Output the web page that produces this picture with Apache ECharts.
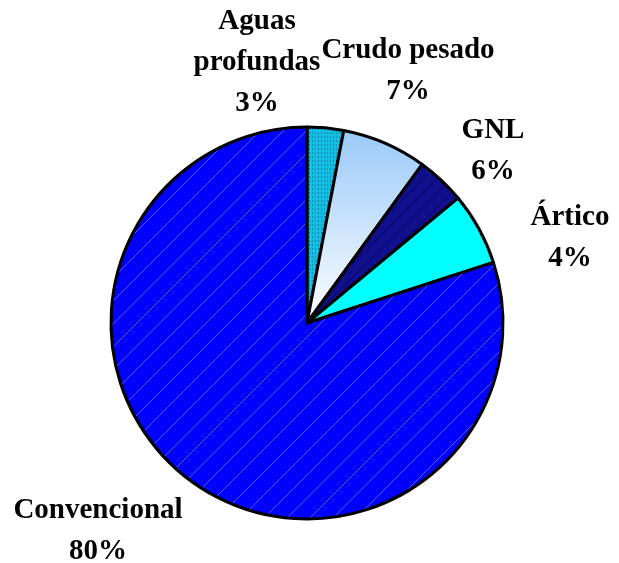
<!DOCTYPE html>
<html>
<head>
    <meta charset="utf-8">
    <title>Reservas</title>
    <script src="https://cdn.jsdelivr.net/npm/echarts@6/dist/echarts.min.js"></script>
    <style>
        html, body { margin: 0; padding: 0; background: #fff; }
        #chart1 { width: 619px; height: 563px; }
    </style>
</head>
<body>
<div id="chart1"></div>
<script type="text/javascript">
    // datos (en sentido horario desde las 12)
    var names = ['Aguas\nprofundas', 'Crudo pesado', 'Ártico', 'GNL', 'Convencional'];
    var values = [3, 7, 4, 6, 80];

    // posiciones de las etiquetas (centro del bloque de texto)
    var labelSpots = [[257, 63], [408, 71], [570, 238], [493, 151], [98, 531]];

    // patrones de relleno
    function hatch(bg, line, s, w) {
        var c = document.createElement('canvas');
        c.width = s; c.height = s;
        var g = c.getContext('2d');
        g.fillStyle = bg;
        g.fillRect(0, 0, s, s);
        g.strokeStyle = line;
        g.lineWidth = w;
        [-s, 0, s].forEach(function (k) {
            g.beginPath();
            g.moveTo(k, s);
            g.lineTo(k + s, 0);
            g.stroke();
        });
        return { image: c, repeat: 'repeat' };
    }
    function dots(bg, dot) {
        var c = document.createElement('canvas');
        c.width = 3; c.height = 4;
        var g = c.getContext('2d');
        g.fillStyle = bg;
        g.fillRect(0, 0, 3, 4);
        g.fillStyle = dot;
        g.fillRect(0, 0, 1, 2);
        return { image: c, repeat: 'repeat' };
    }

    var fills = [
        dots('#14BEE2', '#0A8DB4'),
        new echarts.graphic.LinearGradient(0, 0, 0, 1, [
            { offset: 0, color: '#99C9F8' },
            { offset: 1, color: '#FFFFFF' }
        ]),
        hatch('#10108C', '#06066A', 14, 1),
        '#00FFFF',
        hatch('#0000FF', 'rgba(190,200,255,0.45)', 23, 1)
    ];

    var pieData = values.map(function (v, i) {
        return { name: names[i], value: v, itemStyle: { color: fills[i] } };
    });

    var myChart = echarts.init(document.getElementById('chart1'));
    myChart.setOption({
        animation: false,
        series: [{
            type: 'pie',
            center: [307, 323],
            radius: [0, 196],
            startAngle: 90,
            clockwise: true,
            percentPrecision: 0,
            data: pieData,
            itemStyle: {
                borderColor: '#000',
                borderWidth: 3
            },
            label: {
                show: true,
                position: 'outside',
                overflow: 'none',
                formatter: '{b}\n{d}%',
                fontFamily: 'Liberation Serif',
                fontWeight: 'bold',
                fontSize: 29,
                lineHeight: 41,
                color: '#000',
                align: 'center'
            },
            labelLine: { show: false },
            labelLayout: function (params) {
                var p = labelSpots[params.dataIndex];
                return { x: p[0], y: p[1], align: 'center', verticalAlign: 'middle' };
            },
            emphasis: { disabled: true }
        }]
    });
</script>
</body>
</html>
